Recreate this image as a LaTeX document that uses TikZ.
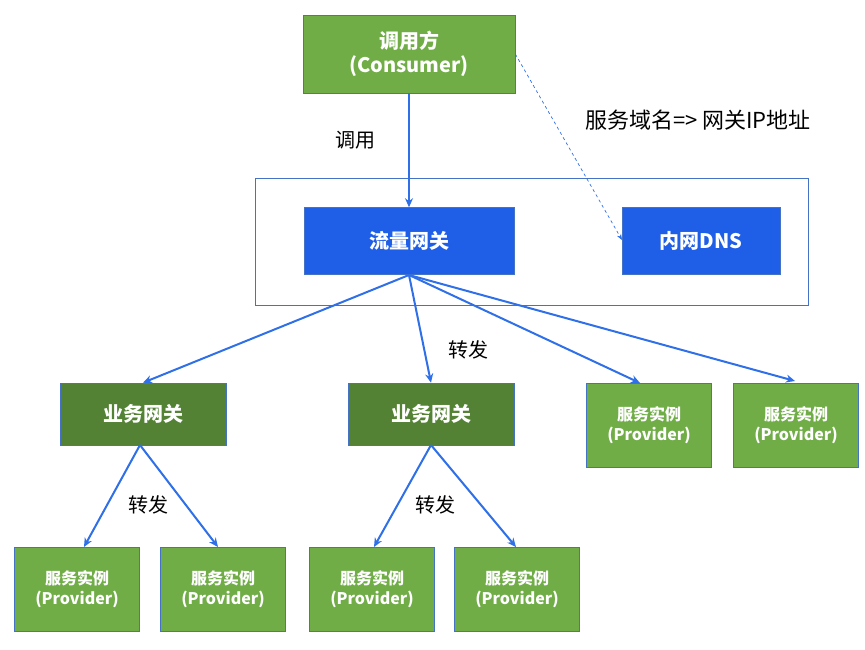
\documentclass[tikz,border=0pt]{standalone}
\usepackage{fontspec}
\setmainfont{Noto Sans CJK SC}
\usetikzlibrary{arrows.meta}
\definecolor{lg}{HTML}{70AD47}
\definecolor{dg}{HTML}{548235}
\definecolor{bl}{HTML}{1F5FE8}
\definecolor{bd}{HTML}{4472C4}
\definecolor{ar}{HTML}{2F6FE8}
\begin{document}
\begin{tikzpicture}[x=1pt,y=-1pt,
  box/.style={draw=bd,line width=0.6pt,text=white,font=\bfseries,align=center,inner sep=0pt},
  big/.style={box,font=\fontsize{20}{24}\selectfont\bfseries},
  small/.style={box,fill=lg,minimum width=125pt,minimum height=84pt,font=\fontsize{16}{20}\selectfont\bfseries},
  arr/.style={draw=ar,line width=2pt,-{Stealth[length=9pt,width=8pt]}},
  lab/.style={font=\fontsize{20}{24}\selectfont}]
\useasboundingbox (0,0) rectangle (865,649);
\draw[draw=bd,line width=0.8pt] (255,178) rectangle (808,305);
\node[big,fill=lg,minimum width=212pt,minimum height=78pt] (c) at (409,54) {调用方\\(Consumer)};
\node[big,fill=bl,minimum width=210pt,minimum height=67pt] (g) at (409,241) {流量网关};
\node[big,fill=bl,minimum width=158pt,minimum height=67pt] (dns) at (701,241) {内网DNS};
\node[big,fill=dg,minimum width=166pt,minimum height=62pt] (b1) at (143,414) {业务网关};
\node[big,fill=dg,minimum width=166pt,minimum height=62pt] (b2) at (431,414) {业务网关};
\node[small] (p3) at (649,425) {服务实例\\(Provider)};
\node[small] (p4) at (796,425) {服务实例\\(Provider)};
\node[small] (q1) at (77,589) {服务实例\\(Provider)};
\node[small] (q2) at (223,589) {服务实例\\(Provider)};
\node[small] (q3) at (372,589) {服务实例\\(Provider)};
\node[small] (q4) at (517,589) {服务实例\\(Provider)};
\coordinate (gb) at (409,275);
\draw[arr] (c) -- (g);
\draw[arr] (gb) -- (b1.north);
\draw[arr] (gb) -- (b2.north);
\draw[arr] (gb) -- (640,383);
\draw[arr] (gb) -- (795,381);
\coordinate (b1b) at (140,445);
\coordinate (b2b) at (431,445);
\draw[arr] (b1b) -- (84,547);
\draw[arr] (b1b) -- (218,547);
\draw[arr] (b2b) -- (374,547);
\draw[arr] (b2b) -- (516,547);
\draw[draw=ar,dashed,line width=0.7pt,-{Stealth[length=6pt]}] (c.east) ++(0,0) -- (622,240);
\node[lab] at (355,140) {调用};
\node[lab] at (468,350) {转发};
\node[lab] at (148,505) {转发};
\node[lab] at (435,505) {转发};
\node[lab,font=\fontsize{22}{26}\selectfont] at (698,120) {服务域名=> 网关IP地址};
\end{tikzpicture}
\end{document}
